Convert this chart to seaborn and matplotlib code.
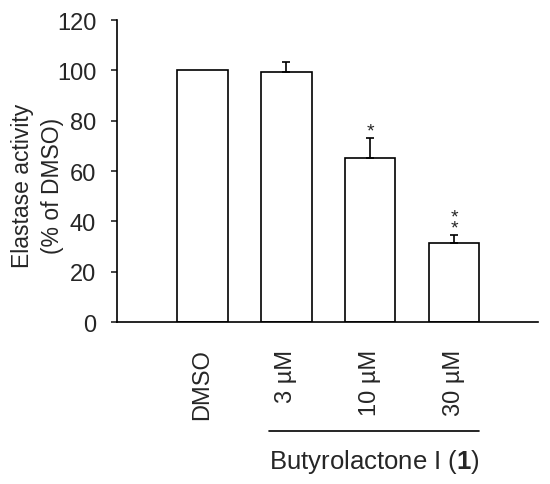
import numpy as np
import pandas as pd
import matplotlib
matplotlib.use("Agg")
import matplotlib.pyplot as plt
import seaborn as sns

# data
groups = ["DMSO", "3 µM", "10 µM", "30 µM"]
activity = [100, 99.5, 65, 31.5]
sem = [0, 3.7, 8, 3]
stars = ["", "", "*", "*\n*"]

sns.set_style("white")
plt.rcParams["font.family"] = ["Liberation Sans", "DejaVu Sans"]
plt.rcParams["mathtext.fontset"] = "custom"
plt.rcParams["mathtext.rm"] = "Liberation Sans"
plt.rcParams["mathtext.bf"] = "Liberation Sans:bold"

df = pd.DataFrame({"group": groups, "activity": activity})

fig = plt.figure(figsize=(5.5, 4.85), dpi=100)
ax = fig.add_axes([0.2127, 0.334, 0.7655, 0.6227])

sns.barplot(data=df, x="group", y="activity", color="white", edgecolor="black",
            linewidth=1.2, width=0.6, errorbar=None, ax=ax)

# upper error bars only
xpos = np.arange(len(groups))
ax.errorbar(xpos[1:], activity[1:], yerr=[np.zeros(3), sem[1:]], fmt="none",
            ecolor="black", elinewidth=1.2, capsize=2.9, capthick=1.2)

for i in range(len(groups)):
    if stars[i]:
        ax.text(xpos[i], activity[i] + sem[i] - 0.5, stars[i], ha="center", va="bottom",
                fontsize=14, linespacing=0.55)

ax.set_ylim(0, 120)
ax.set_xlim(-1.02, 4.0)
ax.set_yticks([0, 20, 40, 60, 80, 100, 120])
ax.set_xlabel("")
ax.set_ylabel("")
ax.tick_params(axis="y", labelsize=17, length=4, width=1.2, pad=11, left=True)
ax.tick_params(axis="x", labelsize=17, length=0, pad=19)
plt.setp(ax.get_xticklabels(), rotation=90)

for s in ["top", "right"]:
    ax.spines[s].set_visible(False)
for s in ["left", "bottom"]:
    ax.spines[s].set_linewidth(1.2)
    ax.spines[s].set_color("black")

fig.text(0.068, 0.616, "Elastase activity\n(% of DMSO)", rotation=90, ha="center",
         va="center", fontsize=16.5, multialignment="center", linespacing=1.35)

# bracket line under the compound doses
trans = matplotlib.transforms.blended_transform_factory(ax.transData, fig.transFigure)
ax.plot([0.79, 3.3], [0.109, 0.109], color="black", lw=1.2, transform=trans, clip_on=False)
ax.text(2.05, 0.047, r"Butyrolactone I ($\mathbf{1}$)", transform=trans, ha="center",
        va="center", fontsize=18.5)

fig.savefig("out.png", dpi=100)
